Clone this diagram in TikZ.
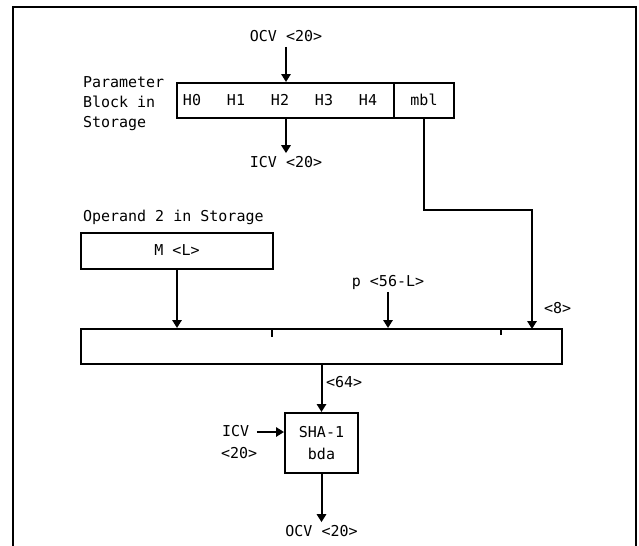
\documentclass[tikz,border=0pt]{standalone}
\usepackage{fontspec}
\setmonofont{DejaVu Sans Mono}
\usetikzlibrary{arrows.meta,positioning}

\begin{document}
\begin{tikzpicture}[
  x=0.75pt, y=-0.75pt,
  font=\ttfamily\fontsize{11.25}{15}\selectfont,
  line width=1.5pt,
  >={Triangle[length=6pt,width=7pt]},
  lbl/.style={inner sep=3pt, text height=0.73em, text depth=0pt},
  box/.style={draw, inner sep=0pt, text height=0.73em, text depth=0pt},
  tall/.style={minimum height=26.25pt}
]
\useasboundingbox (0,0) rectangle (639,546);
% open frame
\draw (13,550) -- (13,7) -- (636,7) -- (636,550);

% parameter block
\node[box, tall, minimum width=162.75pt] (hbox) at (285.5,100.5) {};
\node[box, tall, minimum width=45pt, right=-1.5pt of hbox] (mbl) {mbl};
\foreach \i in {0,...,4}
  \node[lbl] (h\i) at ({192+44*\i},101) {H\i};
\node[anchor=north west, align=left, inner sep=0pt] (pblk) at (82,75.5) {Parameter\\Block in\\Storage};
\node[lbl] (ocvin) at (286,37) {OCV <20>};
\node[lbl] (icvout) at (286,163) {ICV <20>};

% operand and buffer
\node[lbl, anchor=west] (oplbl) at (78,217) {Operand 2 in Storage};
\node[box, minimum width=144pt, minimum height=27pt] (mbox) at (177,251) {M <L>};
\node[lbl] (plab) at (388,282) {p <56-L>};
\node[lbl, anchor=west] (blen) at (539,309) {<8>};
\node[box, tall, minimum width=360.75pt] (buf) at (321.5,346.5) {};
\coordinate (lenin) at (532,329);
\draw ([xshift=144pt]buf.north west) -- ++(0,9);
\draw[line width=0.8pt] ([xshift=315.75pt]buf.north west) -- ++(0,7);

% hash
\node[box, align=center, text height=, text depth=, minimum width=54.75pt, minimum height=45pt,
  font=\ttfamily\fontsize{11.25}{16.5}\selectfont] (sha) at (321.5,443) {SHA-1\\bda};
\node[lbl, anchor=west] (wlen) at (321,383) {<64>};
\node[lbl, anchor=west] (icv) at (217,432) {ICV};
\node[lbl, anchor=west] (icvlen) at (216,454) {<20>};
\node[lbl] (ocvout) at (321.5,532) {OCV <20>};

\draw[->] (ocvin) -- (ocvin |- hbox.north);
\draw[->] (hbox.south -| ocvin) -- (icvout);
\draw[->] (mbl.south) -- ++(0,91) -| (lenin);
\draw[->] (mbox) -- (mbox |- buf.north);
\draw[->] (plab) -- (plab |- buf.north);
\draw[->] (buf.south -| sha.north) -- (sha.north);
\draw[->, shorten <=2pt] (icv) -- (icv -| sha.west);
\draw[->] (sha) -- (ocvout);
\end{tikzpicture}
\end{document}
